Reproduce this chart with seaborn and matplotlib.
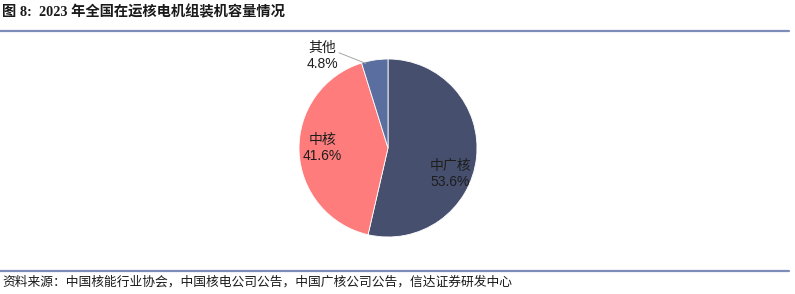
import matplotlib
matplotlib.use("Agg")
import matplotlib.pyplot as plt
import seaborn as sns
from matplotlib.lines import Line2D

sns.set_theme(style="white")
plt.rcParams['font.family'] = ['Liberation Sans', 'Noto Sans CJK SC', 'DejaVu Sans']

categories = ["中广核", "中核", "其他"]
values = [53.6, 41.6, 4.8]
colors = ["#464f6d", "#ff7c7c", "#5b6ea0"]
title = "图 8:  2023 年全国在运核电机组装机容量情况"
source = "资料来源：中国核能行业协会，中国核电公司公告，中国广核公司公告，信达证券研发中心"

W, H = 795, 294
fig = plt.figure(figsize=(W / 100, H / 100), dpi=100)

cx, cy, r = 388, 148, 89
ax = fig.add_axes([(cx - r) / W, (H - cy - r) / H, 2 * r / W, 2 * r / H])
ax.pie(values, colors=colors, startangle=90, counterclock=False,
       radius=1.0, wedgeprops=dict(linewidth=0.6, edgecolor="white"))
ax.set_xlim(-1, 1)
ax.set_ylim(-1, 1)
ax.set_aspect("equal")
ax.axis("off")

label_pos = [(0.70, -0.29), (-0.74, 0.0), (-0.74, 1.03)]
for cat, v, (x, y) in zip(categories, values, label_pos):
    ax.text(x, y, f"{cat}\n{v:.1f}%", ha="center", va="center",
            fontsize=10, color="#1e1e1e", linespacing=1.2, clip_on=False)

# leader line for small slice
ax.plot([-0.55, -0.25], [1.07, 0.95], color="#a6a6a6", lw=0.7, clip_on=False)

fig.text(2 / W, 1 - 12 / H, title, fontsize=10.3, fontweight="bold",
         ha="left", va="center", color="#1a1a1a",
         family=['Liberation Serif', 'Noto Sans CJK SC'])
fig.add_artist(Line2D([0, 789 / W], [1 - 31 / H] * 2, color="#7b8db8", lw=1.6,
                      transform=fig.transFigure))
fig.add_artist(Line2D([0, 789 / W], [1 - 271 / H] * 2, color="#7b8db8", lw=1.6,
                      transform=fig.transFigure))
fig.text(2 / W, 1 - 282 / H, source, fontsize=9.2, style="italic",
         ha="left", va="center", color="#1a1a1a",
         family=['Noto Sans CJK SC', 'DejaVu Sans'])

fig.savefig("out.png", dpi=100)
